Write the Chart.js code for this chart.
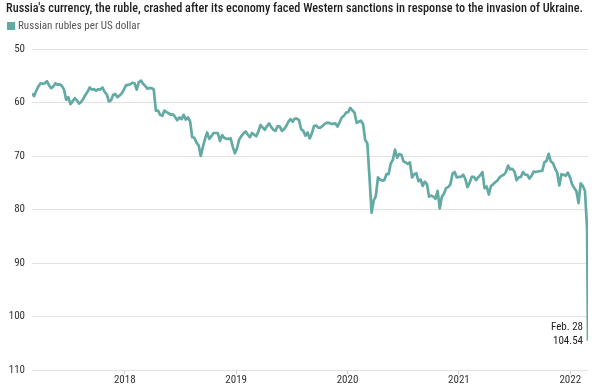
<!DOCTYPE html>
<html><head><meta charset="utf-8">
<script src="https://cdn.jsdelivr.net/npm/chart.js@4.4.1/dist/chart.umd.min.js"></script>
<style>html,body{margin:0;padding:0;background:#fff}#wrap{width:600px;height:388px}</style>
</head><body><div id="wrap"><canvas id="c" width="600" height="388"></canvas></div>
<script>
// ---- data (weekly Friday closes, RUB per USD) ----
const firstFriday = '2017-03-03';
const weeklyClose = [
  // 2017
  58.3, 58.8, 57.8, 57.0, 56.4,
  56.5, 56.4, 56.0, 56.8,
  57.3, 57.0, 56.4, 56.7,
  56.6, 56.9, 57.6, 59.5, 59.0,
  60.3, 59.8, 59.2, 59.6,
  60.2, 59.9, 59.3, 58.6,
  58.0, 57.2, 57.6, 57.5, 57.8,
  57.5, 57.6, 57.2, 58.0,
  58.5, 59.8, 59.6, 58.6,
  58.4, 59.0, 58.7, 58.3, 57.6,
  // 2018
  56.8, 56.7, 56.6, 56.3,
  56.4, 57.6, 56.2, 55.9,
  56.5, 56.9, 57.4, 57.3, 57.3,
  57.6, 61.5, 61.5, 62.3,
  62.5, 61.5, 61.8, 62.0,
  62.3, 62.2, 62.7, 63.3, 62.8,
  63.1, 62.3, 63.2, 62.8,
  63.5, 66.5, 66.6, 67.5, 68.0,
  70.0, 68.3, 66.8, 65.6,
  66.8, 66.3, 65.7, 65.7,
  65.7, 67.2, 66.1, 66.6, 66.8,
  66.8, 66.7, 68.3, 69.5,
  // 2019
  68.5, 66.9, 66.3, 65.8,
  65.4, 66.0, 66.5, 65.7,
  66.0, 66.3, 65.4, 64.2, 64.7,
  65.1, 64.4, 63.9, 64.6,
  65.1, 65.3, 64.4, 64.5, 65.3,
  65.0, 64.4, 63.6, 63.1,
  63.6, 63.0, 63.0, 63.3,
  65.0, 65.3, 66.2, 65.6, 66.7,
  65.8, 64.4, 64.3, 64.7,
  64.7, 64.4, 64.0, 63.8,
  63.8, 64.0, 64.0, 63.9, 64.5,
  63.7, 62.8, 62.5, 61.9,
  // 2020
  61.8, 61.0, 61.5, 61.9, 63.8,
  63.6, 63.4, 64.0, 67.0,
  67.6, 73.8, 80.6, 78.3,
  77.5, 74.0, 74.4, 74.6,
  74.5, 73.4, 73.4, 71.4, 70.7,
  68.8, 70.3, 69.6, 69.8,
  71.0, 71.2, 71.5, 71.2, 74.0,
  73.4, 73.2, 74.7, 74.4,
  75.6, 74.8, 75.3, 77.6,
  77.4, 77.6, 78.0, 76.5, 79.8,
  77.6, 77.0, 76.0, 75.8,
  75.3, 73.3, 73.0, 74.0,
  // 2021
  73.9, 73.9, 73.5, 74.3, 75.8,
  75.0, 73.9, 73.9, 74.5,
  74.0, 73.6, 73.0, 76.0,
  75.7, 77.2, 75.6, 75.3, 74.9,
  74.6, 74.0, 73.7, 73.5,
  73.0, 71.8, 72.5, 72.4,
  72.9, 74.5, 74.0, 73.9, 73.0,
  73.5, 73.5, 74.2, 73.7,
  72.9, 73.0, 72.9, 72.8,
  72.8, 71.2, 70.9, 69.6, 71.0,
  71.3, 72.3, 73.1, 75.5,
  73.4, 73.5, 73.7, 73.1, 74.0,
  // 2022
  75.3, 76.0, 76.6, 78.8,
  75.1, 75.6, 76.5, 83.6
];
const lastDay = '2022-02-28';
const lastClose = 104.54;
const yearTicks = [2018, 2019, 2020, 2021, 2022];
const valueTicks = [50, 60, 70, 80, 90, 100, 110];
const titleText = "Russia's currency, the ruble, crashed after its economy faced Western sanctions in response to the invasion of Ukraine.";
const seriesName = 'Russian rubles per US dollar';
const noteLines = ['Feb. 28', '104.54'];

// ---- helpers ----
const lineColor = '#64aaa4';
function decYear(ms) {
  const d = new Date(ms); const y = d.getUTCFullYear();
  const s = Date.UTC(y, 0, 1), e = Date.UTC(y + 1, 0, 1);
  return y + (ms - s) / (e - s);
}
const startMs = Date.parse(firstFriday + 'T00:00:00Z');
const points = weeklyClose.map((v, i) => ({ x: decYear(startMs + i * 7 * 86400000), y: v }));
const lastX = decYear(Date.parse(lastDay + 'T00:00:00Z'));
points.push({ x: lastX, y: lastClose });
const xMin = points[0].x, xMax = lastX;

function hasFont(n) {
  const c = document.createElement('canvas').getContext('2d');
  const t = 'mmmmmmmmmmlli1WQabc';
  for (const base of ['monospace', 'serif']) {
    c.font = '32px ' + base; const a = c.measureText(t).width;
    c.font = '32px "' + n + '", ' + base;
    if (Math.abs(c.measureText(t).width - a) > 0.01) return true;
  }
  return false;
}
const condensed = ['Liberation Sans Narrow', 'Roboto Condensed', 'DejaVu Sans Condensed'].find(hasFont);
const F = condensed ? '"' + condensed + '", Roboto, sans-serif' : 'Roboto, sans-serif';
const tickSize = condensed ? 11 : 10;

function drawFitted(ctx, text, x, y, width, font, color) {
  ctx.save();
  ctx.font = font; ctx.fillStyle = color; ctx.textBaseline = 'middle'; ctx.textAlign = 'left';
  const w = ctx.measureText(text).width;
  const s = Math.max(0.6, Math.min(1.3, width / w));
  ctx.translate(x, y); ctx.scale(s, 1);
  ctx.fillText(text, 0, 0);
  ctx.restore();
}

const decor = {
  id: 'decor',
  beforeDraw(chart) {
    const ctx = chart.ctx; ctx.save(); ctx.fillStyle = '#fff';
    ctx.fillRect(0, 0, chart.width, chart.height); ctx.restore();
  },
  afterDraw(chart) {
    const ctx = chart.ctx;
    drawFitted(ctx, titleText, 6, 9, 577, '500 12.5px ' + F, '#1e1e1e');
    ctx.save(); ctx.fillStyle = lineColor; ctx.fillRect(7, 22, 8, 8); ctx.restore();
    drawFitted(ctx, seriesName, 18, 26.5, 122, '10px ' + F, '#555');
    const xs = chart.scales.x, ys = chart.scales.y;
    const px = xs.getPixelForValue(lastX) - 5, py = ys.getPixelForValue(lastClose);
    ctx.save();
    ctx.font = (tickSize) + 'px ' + F; ctx.fillStyle = '#222';
    ctx.textAlign = 'right'; ctx.textBaseline = 'middle';
    ctx.fillText(noteLines[0], px, py - 14);
    ctx.fillText(noteLines[1], px, py);
    ctx.restore();
  }
};

new Chart(document.getElementById('c'), {
  type: 'line',
  data: { datasets: [{
    label: seriesName, data: points, borderColor: lineColor, backgroundColor: lineColor,
    borderWidth: 2.7, pointRadius: 0, tension: 0, fill: false, borderJoinStyle: 'round'
  }]},
  options: {
    responsive: false, animation: false, events: [],
    layout: { padding: { top: 49, right: 12, left: 0, bottom: 0 } },
    plugins: { legend: { display: false }, title: { display: false }, tooltip: { enabled: false } },
    scales: {
      x: {
        type: 'linear', min: xMin, max: xMax,
        afterBuildTicks: s => { s.ticks = yearTicks.map(v => ({ value: v })); },
        afterFit: s => { s.height = 18; },
        grid: { drawOnChartArea: false, drawTicks: true, tickLength: 4, color: '#cccccc' },
        border: { display: false },
        ticks: { padding: 0, color: '#333', font: { family: F, size: tickSize }, maxRotation: 0, autoSkip: false,
                 callback: v => String(v) }
      },
      y: {
        reverse: true, min: 50, max: 110,
        afterBuildTicks: s => { s.ticks = valueTicks.map(v => ({ value: v })); },
        afterFit: s => { s.width = 32; },
        grid: { color: '#e2e2e2', drawTicks: false, lineWidth: 1 },
        border: { display: false },
        ticks: { padding: 7, color: '#333', font: { family: F, size: tickSize }, callback: v => String(v) }
      }
    }
  },
  plugins: [decor]
});
</script></body></html>
